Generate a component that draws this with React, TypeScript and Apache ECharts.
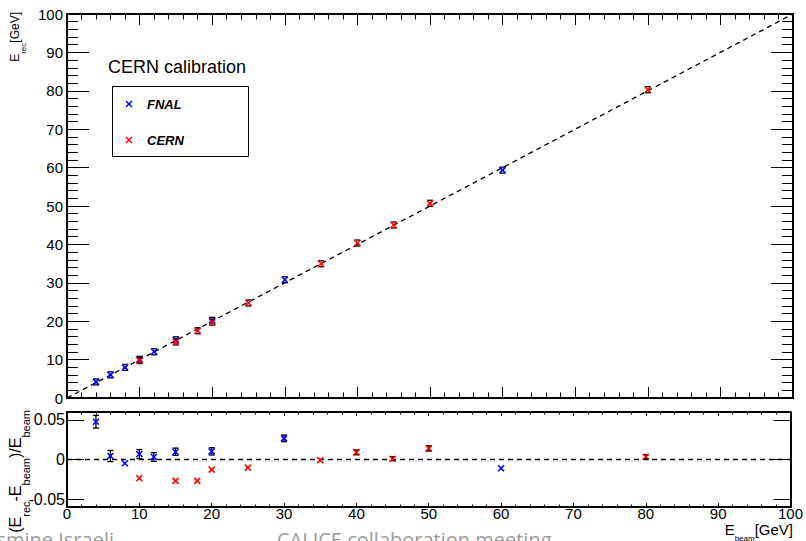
import React, { useEffect, useRef } from 'react';
import * as echarts from 'echarts';

// ---- data ----
const fnalBeam = [4, 6, 8, 10, 12, 15, 20, 30, 60];
const fnalRec = [4.19, 6.03, 7.96, 10.07, 12.04, 15.15, 20.21, 30.8, 59.34];
const fnalResid = [0.0477, 0.0044, -0.0048, 0.0069, 0.0032, 0.0098, 0.0103, 0.0267, -0.011];
const fnalResidErr = [0.008, 0.007, 0, 0.0057, 0.0055, 0.0046, 0.0046, 0.0042, 0];

const cernBeam = [10, 15, 18, 20, 25, 35, 40, 45, 50, 80];
const cernRec = [9.76, 14.6, 17.51, 19.74, 24.74, 34.96, 40.36, 45.05, 50.7, 80.28];
const cernResid = [-0.0237, -0.027, -0.027, -0.0128, -0.0103, -0.001, 0.009, 0.001, 0.014, 0.0035];
const cernResidErr = [0, 0, 0, 0, 0, 0, 0.003, 0.0025, 0.0034, 0.0025];

const diagonal = [[0, 0], [100, 100]];
const zeroLine = [[0, 0], [100, 0]];
const residTicks = [-0.05, 0, 0.05];

const FONT = "'Liberation Sans', Arial, Helvetica, sans-serif";
const BLUE = '#0000ff';
const RED = '#ff0000';

function markerSeries(name: string, data: number[][], color: string, axisIdx: number, top: boolean) {
  return {
    type: 'custom',
    name,
    xAxisIndex: axisIdx,
    yAxisIndex: axisIdx,
    data,
    encode: { x: 0, y: 1 },
    silent: true,
    z: 5,
    renderItem: (params: any, api: any) => {
      const x = api.value(0);
      const y = api.value(1);
      const e = api.value(2);
      const p = api.coord([x, y]);
      const s = 3;
      const children: any[] = [];
      const barStyle = { stroke: '#000', lineWidth: 1.3 };
      const hl = (yy: number) => ({
        type: 'line',
        shape: { x1: p[0] - 3, y1: yy, x2: p[0] + 3, y2: yy },
        style: barStyle,
      });
      if (top) {
        children.push(hl(p[1] - s));
        children.push(hl(p[1] + s));
      } else if (e > 0) {
        const a = api.coord([x, y + e]);
        const b = api.coord([x, y - e]);
        children.push({ type: 'line', shape: { x1: p[0], y1: a[1], x2: p[0], y2: b[1] }, style: barStyle });
        children.push(hl(a[1]));
        children.push(hl(b[1]));
      }
      const ms = { stroke: color, lineWidth: 1.6 };
      children.push({ type: 'line', shape: { x1: p[0] - s, y1: p[1] - s, x2: p[0] + s, y2: p[1] + s }, style: ms });
      children.push({ type: 'line', shape: { x1: p[0] - s, y1: p[1] + s, x2: p[0] + s, y2: p[1] - s }, style: ms });
      return { type: 'group', children };
    },
  };
}

function xAxisDef(grid: number, position: string, showLabel: boolean, tickLen: number, minorLen: number) {
  return {
    type: 'value',
    gridIndex: grid,
    position,
    min: 0,
    max: 100,
    interval: 10,
    axisLine: { show: true, onZero: false, lineStyle: { color: '#000', width: 2 } },
    axisTick: { show: true, inside: true, length: tickLen, lineStyle: { color: '#000', width: 1 } },
    minorTick: { show: true, splitNumber: 5, length: minorLen, lineStyle: { color: '#000', width: 1 } },
    splitLine: { show: false },
    minorSplitLine: { show: false },
    axisLabel: {
      show: showLabel,
      margin: -1,
      color: '#000',
      fontSize: 15,
      fontFamily: FONT,
    },
  };
}

export default function App() {
  const ref = useRef<HTMLDivElement>(null);
  useEffect(() => {
    if (!ref.current) return;
    const chart = echarts.init(ref.current, undefined, { renderer: 'svg' });

    const fnalTop = fnalBeam.map((b, i) => [b, fnalRec[i], 0]);
    const cernTop = cernBeam.map((b, i) => [b, cernRec[i], 0]);
    const fnalBot = fnalBeam.map((b, i) => [b, fnalResid[i], fnalResidErr[i]]);
    const cernBot = cernBeam.map((b, i) => [b, cernResid[i], cernResidErr[i]]);

    const legendX = (cx: number, cy: number, color: string) => [
      { type: 'line', z: 20, shape: { x1: cx - 3, y1: cy - 3, x2: cx + 3, y2: cy + 3 }, style: { stroke: color, lineWidth: 1.5 } },
      { type: 'line', z: 20, shape: { x1: cx - 3, y1: cy + 3, x2: cx + 3, y2: cy - 3 }, style: { stroke: color, lineWidth: 1.5 } },
    ];

    const option: any = {
      animation: false,
      backgroundColor: '#fff',
      grid: [
        { left: 67, right: 13, top: 14, height: 384 },
        { left: 67, right: 13, top: 412, height: 95 },
      ],
      xAxis: [
        xAxisDef(0, 'bottom', false, 11, 5.5),
        xAxisDef(0, 'top', false, 11, 5.5),
        xAxisDef(1, 'bottom', true, 4, 2.5),
        xAxisDef(1, 'top', false, 4, 2.5),
      ],
      yAxis: [
        {
          type: 'value', gridIndex: 0, position: 'left', min: 0, max: 100, interval: 10,
          axisLine: { show: true, onZero: false, lineStyle: { color: '#000', width: 2 } },
          axisTick: { show: true, inside: true, length: 22, lineStyle: { color: '#000', width: 1 } },
          minorTick: { show: true, splitNumber: 5, length: 11, lineStyle: { color: '#000', width: 1 } },
          splitLine: { show: false },
          axisLabel: { show: true, margin: 4, color: '#000', fontSize: 15, fontFamily: FONT },
        },
        {
          type: 'value', gridIndex: 0, position: 'right', min: 0, max: 100, interval: 10,
          axisLine: { show: true, onZero: false, lineStyle: { color: '#000', width: 2 } },
          axisTick: { show: true, inside: true, length: 22, lineStyle: { color: '#000', width: 1 } },
          minorTick: { show: true, splitNumber: 5, length: 11, lineStyle: { color: '#000', width: 1 } },
          splitLine: { show: false },
          axisLabel: { show: false },
        },
        {
          type: 'value', gridIndex: 1, position: 'left', min: -0.06, max: 0.06,
          axisLine: { show: true, onZero: false, lineStyle: { color: '#000', width: 2 } },
          axisTick: { show: true, inside: true, length: 17, customValues: residTicks, lineStyle: { color: '#000', width: 1 } },
          minorTick: { show: false },
          splitLine: { show: false },
          axisLabel: {
            show: true, margin: 2, color: '#000', fontSize: 16, fontFamily: FONT,
            customValues: residTicks,
            formatter: (v: number) => (Math.abs(v) < 1e-9 ? '0' : v.toFixed(2)),
          },
        },
        {
          type: 'value', gridIndex: 1, position: 'right', min: -0.06, max: 0.06,
          axisLine: { show: true, onZero: false, lineStyle: { color: '#000', width: 2 } },
          axisTick: { show: true, inside: true, length: 17, customValues: residTicks, lineStyle: { color: '#000', width: 1 } },
          minorTick: { show: false },
          splitLine: { show: false },
          axisLabel: { show: false, customValues: residTicks },
        },
      ],
      series: [
        {
          type: 'line', xAxisIndex: 0, yAxisIndex: 0, data: diagonal, symbol: 'none', silent: true,
          lineStyle: { color: '#000', width: 1.3, type: [5, 4] }, z: 3,
        },
        {
          type: 'line', xAxisIndex: 2, yAxisIndex: 2, data: zeroLine, symbol: 'none', silent: true,
          lineStyle: { color: '#000', width: 1.3, type: [5, 4] }, z: 3,
        },
        markerSeries('FNAL', fnalTop, BLUE, 0, true),
        markerSeries('CERN', cernTop, RED, 0, true),
        markerSeries('FNAL', fnalBot, BLUE, 2, false),
        markerSeries('CERN', cernBot, RED, 2, false),
      ],
      graphic: [
        // y title, top panel
        {
          type: 'text', x: 9, y: 12, rotation: Math.PI / 2,
          style: {
            text: '{m|E}{s|rec}{m|[GeV]}',
            align: 'right', verticalAlign: 'top',
            fill: '#000',
            rich: {
              m: { fontSize: 12, fontFamily: FONT, lineHeight: 13, verticalAlign: 'top', fill: '#000' },
              s: { fontSize: 8, fontFamily: FONT, lineHeight: 18, verticalAlign: 'bottom', fill: '#000' },
            },
          },
        },
        // y title, bottom panel
        {
          type: 'text', x: 7, y: 410, rotation: Math.PI / 2,
          style: {
            text: '{m|(E}{s|rec}{m|-E}{s|beam}{m|)/E}{s|beam}',
            align: 'right', verticalAlign: 'top',
            fill: '#000',
            rich: {
              m: { fontSize: 16, fontFamily: FONT, lineHeight: 17, verticalAlign: 'top', fill: '#000' },
              s: { fontSize: 11, fontFamily: FONT, lineHeight: 24, verticalAlign: 'bottom', fill: '#000' },
            },
          },
        },
        // x title
        {
          type: 'text', x: 793, y: 522,
          style: {
            text: '{m|E}{s|beam}{m|[GeV]}',
            align: 'right', verticalAlign: 'top',
            fill: '#000',
            rich: {
              m: { fontSize: 15, fontFamily: FONT, lineHeight: 16, verticalAlign: 'top', fill: '#000' },
              s: { fontSize: 8, fontFamily: FONT, lineHeight: 20, verticalAlign: 'bottom', fill: '#000' },
            },
          },
        },
        // legend header
        {
          type: 'text', x: 108, y: 67,
          style: { text: 'CERN calibration', fontSize: 18, fontFamily: FONT, fill: '#000', align: 'left', verticalAlign: 'middle' },
        },
        // legend box
        {
          type: 'rect', z: 10, shape: { x: 112.5, y: 86.5, width: 136, height: 70 },
          style: { fill: 'none', stroke: '#000', lineWidth: 1 },
        },
        ...legendX(129, 104, BLUE),
        ...legendX(129, 140, RED),
        {
          type: 'text', z: 20, x: 147, y: 104,
          style: { text: 'FNAL', fontSize: 13, fontWeight: 'bold', fontStyle: 'italic', fontFamily: FONT, fill: '#000', verticalAlign: 'middle' },
        },
        {
          type: 'text', z: 20, x: 147, y: 140,
          style: { text: 'CERN', fontSize: 13, fontWeight: 'bold', fontStyle: 'italic', fontFamily: FONT, fill: '#000', verticalAlign: 'middle' },
        },
        // slide footer (cut off at the bottom of the picture)
        {
          type: 'text', x: 114, y: 529,
          style: { text: 'Yasmine Israeli', fontSize: 20, fontFamily: "'Open Sans', sans-serif", fill: '#9a9a9a', align: 'right', verticalAlign: 'top' },
        },
        {
          type: 'text', x: 277, y: 529,
          style: { text: 'CALICE collaboration meeting', fontSize: 20, fontFamily: "'Open Sans', sans-serif", fill: '#9a9a9a', align: 'left', verticalAlign: 'top' },
        },
      ],
    };
    chart.setOption(option);
    return () => chart.dispose();
  }, []);
  return <div ref={ref} style={{ width: 806, height: 541, position: 'absolute', left: 0, top: 0 }} />;
}
